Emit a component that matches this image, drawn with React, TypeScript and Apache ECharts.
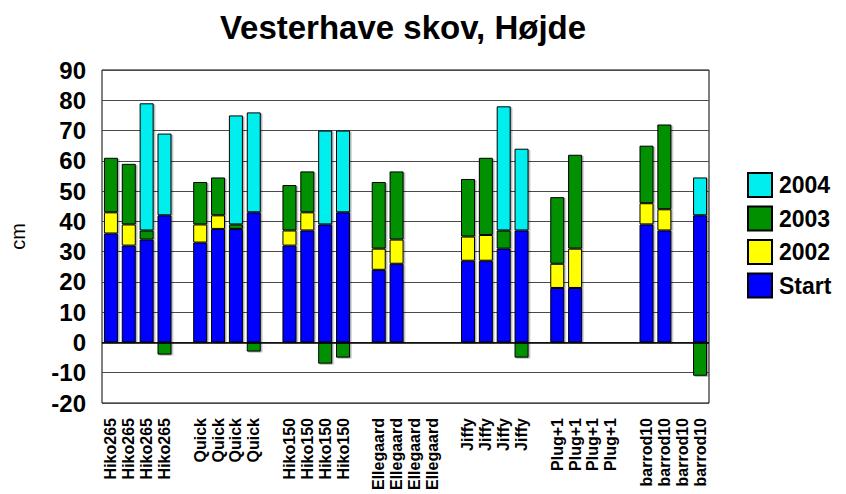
import React, { useEffect, useRef } from "react";
import * as echarts from "echarts";

const categories: string[] = [
  "Hiko265", "Hiko265", "Hiko265", "Hiko265", "",
  "Quick", "Quick", "Quick", "Quick", "",
  "Hiko150", "Hiko150", "Hiko150", "Hiko150", "",
  "Ellegaard", "Ellegaard", "Ellegaard", "Ellegaard", "",
  "Jiffy", "Jiffy", "Jiffy", "Jiffy", "",
  "Plug+1", "Plug+1", "Plug+1", "Plug+1", "",
  "barrod10", "barrod10", "barrod10", "barrod10",
];

const startValues: (number | null)[] = [
  36, 32, 34, 42, null,
  33, 37.5, 37.5, 43, null,
  32, 37, 39, 43, null,
  24, 26, null, null, null,
  27, 27, 31, 37, null,
  18, 18, null, null, null,
  39, 37, null, 42,
];

const values2002: (number | null)[] = [
  7, 7, null, null, null,
  6, 4.5, null, null, null,
  5, 6, null, null, null,
  7, 8, null, null, null,
  8, 8.5, null, null, null,
  8, 13, null, null, null,
  7, 7, null, null,
];

const values2003: (number | null)[] = [
  18, 20, 3, -4, null,
  14, 12.5, 1.5, -3, null,
  15, 13.5, -7, -5, null,
  22, 22.5, null, null, null,
  19, 25.5, 6, -5, null,
  22, 31, null, null, null,
  19, 28, null, -11,
];

const values2004: (number | null)[] = [
  null, null, 42, 27, null,
  null, null, 36, 33, null,
  null, null, 31, 27, null,
  null, null, null, null, null,
  null, null, 41, 27, null,
  null, null, null, null, null,
  null, null, null, 12.5,
];

const FONT = "'Liberation Sans', Arial, sans-serif";

export default function App() {
  const ref = useRef<HTMLDivElement>(null);

  useEffect(() => {
    if (!ref.current) return;
    const chart = echarts.init(ref.current, undefined, { renderer: "svg" });

    const barStyle = (color: string) => ({
      color,
      borderColor: "#000",
      borderWidth: 1,
      shadowColor: "rgba(0,0,0,0.3)",
      shadowOffsetX: 1.5,
      shadowOffsetY: 1,
      shadowBlur: 0,
    });

    const mk = (name: string, data: (number | null)[], color: string, extra: any = {}) => ({
      name,
      type: "bar",
      stack: "total",
      barWidth: 14,
      data,
      itemStyle: barStyle(color),
      ...extra,
    });

    chart.setOption({
      animation: false,
      backgroundColor: "#fff",
      textStyle: { fontFamily: FONT },
      graphic: [
        {
          type: "text",
          x: 403,
          y: 27,
          style: {
            text: "Vesterhave skov, Højde",
            textAlign: "center",
            textVerticalAlign: "middle",
            fontFamily: FONT,
            fontWeight: "bold",
            fontSize: 33,
            fill: "#000",
          },
        },
      ],
      grid: {
        left: 96,
        right: 137,
        top: 70,
        bottom: 91,
        show: true,
        borderColor: "#000",
        borderWidth: 1,
        backgroundColor: "transparent",
      },
      legend: {
        orient: "vertical",
        left: 747,
        top: 172,
        padding: 0,
        itemWidth: 24,
        itemHeight: 24,
        itemGap: 7.5,
        icon: "rect",
        data: ["2004", "2003", "2002", "Start"],
        textStyle: {
          fontFamily: FONT,
          fontWeight: "bold",
          fontSize: 23,
          lineHeight: 24,
          color: "#000",
          padding: [0, 0, 0, 2],
        },
      },
      xAxis: {
        type: "category",
        data: categories,
        axisLine: { onZero: false, show: false },
        axisTick: { show: false },
        axisLabel: {
          interval: 0,
          rotate: 90,
          margin: 15,
          fontFamily: FONT,
          fontWeight: "bold",
          fontSize: 16,
          color: "#000",
        },
        splitLine: { show: false },
      },
      yAxis: {
        type: "value",
        min: -20,
        max: 90,
        interval: 10,
        name: "cm",
        nameLocation: "middle",
        nameRotate: 90,
        nameGap: 74,
        nameTextStyle: { fontFamily: FONT, fontSize: 20, color: "#000" },
        axisLine: { show: false },
        axisTick: { show: false },
        axisLabel: {
          margin: 16,
          fontFamily: FONT,
          fontWeight: "bold",
          fontSize: 24,
          color: "#000",
        },
        splitLine: { show: true, lineStyle: { color: "#4a4a4a", width: 1 } },
      },
      series: [
        mk("Start", startValues, "#0000ff", {
          markLine: {
            silent: true,
            symbol: "none",
            label: { show: false },
            lineStyle: { color: "#000", width: 1.5, type: "solid" },
            data: [{ yAxis: 0 }],
          },
        }),
        mk("2002", values2002, "#ffff00"),
        mk("2003", values2003, "#009000"),
        mk("2004", values2004, "#00eeee"),
      ],
    });

    return () => chart.dispose();
  }, []);

  return (
    <div
      ref={ref}
      style={{ position: "absolute", left: 0, top: 0, width: 846, height: 494 }}
    />
  );
}
